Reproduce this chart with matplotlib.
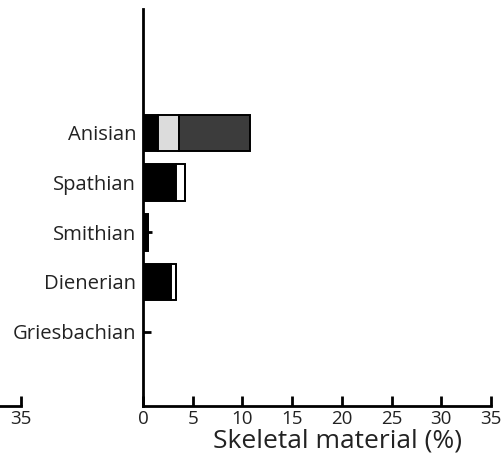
import matplotlib
matplotlib.use("Agg")
import matplotlib.pyplot as plt

# stages, bottom to top
stages = ["Griesbachian", "Dienerian", "Smithian", "Spathian", "Anisian"]
# skeletal components (%), stacked left to right
black_part = [0.0, 2.8, 0.45, 3.3, 1.5]
white_part = [0.0, 0.5, 0.0, 0.9, 0.0]
light_part = [0.0, 0.0, 0.0, 0.0, 2.15]
dark_part = [0.0, 0.0, 0.0, 0.0, 7.15]
# trace amounts drawn as short dashes
trace = [0.8, 0.0, 0.9, 0.0, 0.0]
x_ticks = [0, 5, 10, 15, 20, 25, 30, 35]

plt.rcParams["font.family"] = ["Open Sans", "DejaVu Sans"]

fig = plt.figure(figsize=(5.02, 4.68), dpi=100)
ax = fig.add_axes([0.285, 0.1325, 0.693, 0.8485])

pos = list(range(len(stages)))
left = [0.0] * len(stages)
for vals, col in [(black_part, "black"), (white_part, "white"),
                  (light_part, "#dcdcdc"), (dark_part, "#3c3c3c")]:
    ax.barh(pos, vals, left=left, height=0.74, color=col,
            edgecolor="black", linewidth=1.4 if any(vals) else 0)
    left = [l + v for l, v in zip(left, vals)]

for p, t in zip(pos, trace):
    if t > 0:
        ax.plot([0, t], [p, p], color="black", linewidth=2, solid_capstyle="butt")

ax.set_xlim(0, 35)
ax.set_ylim(-1.5, 6.5)
ax.set_xticks(x_ticks)
ax.set_yticks(pos)
ax.set_yticklabels(stages, fontsize=14.6, color="#222222")
ax.tick_params(axis="x", direction="in", length=7, width=2, labelsize=13.5,
               pad=3, labelcolor="#222222")
ax.tick_params(axis="y", length=0, pad=5)
for side in ["top", "right"]:
    ax.spines[side].set_visible(False)
for side in ["left", "bottom"]:
    ax.spines[side].set_linewidth(2)
ax.set_xlabel("Skeletal material (%)", fontsize=19, labelpad=0, x=0.558,
              color="#222222")

# edge of the neighbouring panel on the left
ax2 = fig.add_axes([0.042 - 0.693, 0.1325, 0.693, 0.8485])
ax2.set_xlim(0, 35)
ax2.set_xticks([35])
ax2.set_yticks([])
ax2.tick_params(axis="x", direction="in", length=7, width=2, labelsize=13.5,
                pad=3, labelcolor="#222222")
for side in ["top", "right", "left"]:
    ax2.spines[side].set_visible(False)
ax2.spines["bottom"].set_linewidth(2)
ax2.patch.set_visible(False)

fig.savefig("out.png", dpi=100)
